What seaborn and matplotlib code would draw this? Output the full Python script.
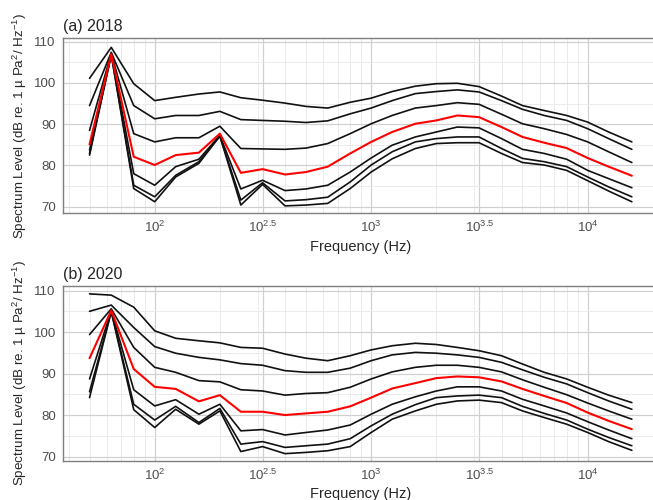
"""
Third-octave spectrum levels, 2018 vs 2020 (percentile curves).
"""

import numpy as np
import pandas as pd
import matplotlib
matplotlib.use("Agg")
import matplotlib.pyplot as plt
import matplotlib.ticker as mticker
import seaborn as sns

# third-octave band centre frequencies (Hz)
freqs = [50, 63, 80, 100, 125, 160, 200, 250, 315, 400, 500, 630, 800,
         1000, 1250, 1600, 2000, 2500, 3150, 4000, 5000, 6300, 8000,
         10000, 12500, 16000]

stats = ["L1", "L2", "L3", "L50", "L5", "L6", "L7"]

levels_2018 = {
    "L1": [101.1, 108.6, 99.8, 95.7, 96.5, 97.3, 97.8, 96.4, 95.8, 95.1, 94.3, 93.9, 95.3,
           96.3, 97.9, 99.2, 99.8, 99.9, 99.1, 96.8, 94.5, 93.3, 92.1, 90.5, 88.1, 85.7],
    "L2": [94.5, 107.4, 94.5, 91.3, 92.1, 92.1, 93.1, 91.1, 90.9, 90.7, 90.4, 90.8, 92.5,
           93.9, 95.7, 97.4, 97.9, 98.3, 97.8, 95.7, 93.6, 92.1, 90.9, 88.9, 86.5, 83.9],
    "L3": [88.5, 107.2, 87.7, 85.7, 86.7, 86.7, 89.5, 84.1, 84.0, 83.9, 84.2, 85.3, 87.7,
           90.1, 92.1, 93.9, 94.5, 95.2, 94.8, 92.4, 90.1, 88.9, 87.5, 85.7, 83.3, 80.7],
    "L50": [85.1, 107.0, 82.1, 80.1, 82.5, 83.1, 87.7, 78.2, 79.1, 77.8, 78.4, 79.7, 82.9,
            85.7, 88.1, 90.1, 90.9, 92.1, 91.7, 89.3, 86.9, 85.5, 84.2, 81.8, 79.7, 77.5],
    "L5": [83.7, 107.0, 78.0, 75.2, 79.7, 81.5, 87.3, 74.3, 76.4, 73.9, 74.3, 75.2, 78.4,
           81.8, 84.9, 86.9, 88.1, 89.3, 89.1, 86.5, 83.9, 82.9, 81.5, 78.8, 76.8, 74.6],
    "L6": [82.9, 106.8, 75.2, 72.4, 77.6, 80.9, 87.1, 71.6, 75.8, 71.4, 71.7, 72.3, 76.0,
           80.1, 83.3, 85.7, 86.5, 86.9, 86.9, 84.1, 81.7, 80.9, 79.7, 77.2, 74.8, 72.4],
    "L7": [82.5, 106.8, 74.4, 71.2, 77.2, 80.5, 87.1, 70.4, 75.4, 70.2, 70.4, 70.8, 74.4,
           78.4, 81.6, 84.1, 85.3, 85.5, 85.5, 82.9, 80.7, 80.1, 78.8, 76.3, 73.8, 71.2],
}

levels_2020 = {
    "L1": [109.2, 108.9, 106.0, 100.3, 98.5, 97.9, 97.4, 96.3, 96.1, 94.7, 93.7, 93.1, 94.3,
           95.7, 96.7, 97.3, 97.0, 96.3, 95.5, 94.3, 92.3, 90.3, 88.7, 86.7, 84.8, 83.0],
    "L2": [105.0, 106.5, 101.1, 96.5, 94.9, 93.9, 93.3, 92.4, 92.0, 90.7, 90.3, 90.3, 91.3,
           93.1, 94.5, 95.1, 94.9, 94.5, 93.9, 92.7, 90.9, 89.1, 87.5, 85.4, 83.4, 81.4],
    "L3": [99.4, 105.6, 96.3, 91.5, 90.3, 88.3, 88.0, 86.1, 85.8, 84.8, 85.2, 85.4, 86.7,
           88.7, 90.4, 91.5, 92.0, 92.0, 91.5, 90.4, 88.5, 86.7, 84.9, 82.9, 81.0, 79.0],
    "L50": [93.7, 105.2, 91.1, 86.8, 86.3, 83.3, 84.8, 80.8, 80.8, 80.0, 80.4, 80.8, 82.1,
            84.2, 86.4, 87.7, 88.9, 89.3, 89.1, 88.1, 86.3, 84.6, 82.9, 80.6, 78.6, 76.6],
    "L5": [88.7, 105.2, 86.1, 82.2, 83.7, 80.2, 82.6, 76.2, 76.5, 75.2, 75.8, 76.4, 77.6,
           80.2, 82.6, 84.4, 85.8, 86.8, 86.8, 85.8, 83.8, 82.2, 80.5, 78.4, 76.4, 74.3],
    "L6": [85.6, 104.9, 82.6, 78.8, 82.1, 78.2, 81.6, 73.0, 73.6, 72.2, 72.6, 73.0, 74.3,
           77.4, 80.2, 82.5, 84.2, 84.6, 84.8, 84.2, 82.1, 80.4, 78.8, 76.6, 74.6, 72.6],
    "L7": [84.2, 104.9, 81.3, 77.0, 81.4, 77.8, 81.0, 71.2, 72.4, 70.7, 71.0, 71.4, 72.4,
           75.8, 79.0, 81.0, 82.6, 83.4, 83.6, 83.0, 81.0, 79.4, 77.8, 75.8, 73.6, 71.5],
}

panel_titles = ["(a) 2018", "(b) 2020"]
x_tick_exp = [2, 2.5, 3, 3.5, 4]
x_tick_labels = [r"$10^{2}$", r"$10^{2.5}$", r"$10^{3}$", r"$10^{3.5}$", r"$10^{4}$"]
y_ticks = [70, 80, 90, 100, 110]


def to_long(levels):
    rows = []
    for s in stats:
        for f, v in zip(freqs, levels[s]):
            rows.append({"freq": f, "level": v, "stat": s})
    return pd.DataFrame(rows)


sns.set_style("white")
plt.rcParams["font.family"] = ["Liberation Sans", "DejaVu Sans"]
plt.rcParams["mathtext.fontset"] = "custom"
plt.rcParams["mathtext.rm"] = "Liberation Sans"
plt.rcParams["mathtext.default"] = "regular"

palette = {s: "#111111" for s in stats}
palette["L50"] = "#ff0000"
hue_order = [s for s in stats if s != "L50"] + ["L50"]

fig = plt.figure(figsize=(6.53, 5.0), dpi=100)
# [left, bottom, width, height] in figure fraction; right edge runs just past the canvas
axes_pos = [[62.7 / 653, 1 - 213.3 / 500, (658 - 62.7) / 653, 175 / 500],
            [62.7 / 653, 1 - 460.7 / 500, (658 - 62.7) / 653, 174.7 / 500]]
ylims = [(68.4, 110.8), (69.0, 111.1)]

for i, levels in enumerate([levels_2018, levels_2020]):
    ax = fig.add_axes(axes_pos[i])
    df = to_long(levels)
    for s in hue_order:
        sub = df[df["stat"] == s]
        sns.lineplot(data=sub, x="freq", y="level", color=palette[s],
                     lw=1.5 if s == "L50" else 1.2, estimator=None, sort=False,
                     legend=False, ax=ax)

    ax.set_xscale("log")
    ax.set_xlim(10 ** 1.575, 10 ** 4.325)
    ax.set_ylim(*ylims[i])

    ax.xaxis.set_major_locator(mticker.FixedLocator([10 ** e for e in x_tick_exp]))
    ax.xaxis.set_major_formatter(mticker.FixedFormatter(x_tick_labels))
    ax.xaxis.set_minor_locator(mticker.LogLocator(base=10, subs=np.arange(2, 10), numticks=20))
    ax.xaxis.set_minor_formatter(mticker.NullFormatter())
    ax.set_yticks(y_ticks)
    ax.yaxis.set_minor_locator(mticker.MultipleLocator(5))

    ax.grid(which="major", color="#d0d0d0", lw=0.9)
    ax.grid(which="minor", color="#e8e8e8", lw=0.6)
    ax.set_axisbelow(True)

    ax.tick_params(which="major", length=3, width=0.8, color="#555555",
                   labelcolor="#4d4d4d", labelsize=9.5, pad=2)
    ax.tick_params(which="minor", length=0)
    for sp in ax.spines.values():
        sp.set_color("#7f7f7f")
        sp.set_linewidth(1.0)

    ax.set_xlabel("Frequency (Hz)", fontsize=10.5, labelpad=3)
    ax.set_ylabel("Spectrum Level (dB re. 1 µ Pa$^{2}$/ Hz$^{-1}$)", fontsize=9.6, labelpad=3)
    ax.set_title(panel_titles[i], loc="left", fontsize=11.5, pad=5)

fig.savefig("out.png", dpi=100)
plt.close(fig)
